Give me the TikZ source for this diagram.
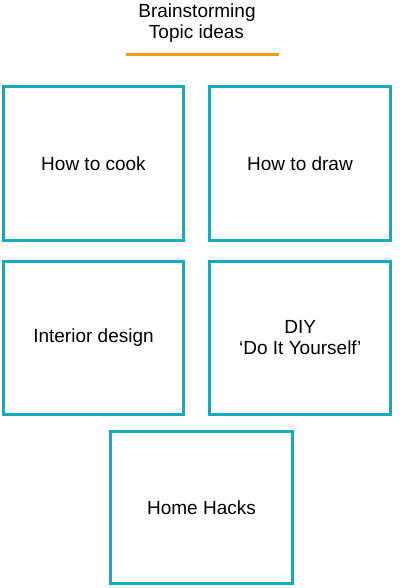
\documentclass[tikz,border=0pt]{standalone}
\usepackage{fontspec}
\setmainfont{Liberation Sans}
\definecolor{boxteal}{RGB}{22,170,186}
\definecolor{ruleorange}{RGB}{228,162,24}
\begin{document}
\begin{tikzpicture}[x=1bp,y=-1bp,
  topicbox/.style={draw=boxteal, line width=3bp, inner sep=0pt, outer sep=0pt,
    align=center, font=\fontsize{19bp}{21bp}\selectfont},
  titleline/.style={inner sep=0pt, anchor=base, font=\fontsize{19bp}{21bp}\selectfont}]
\useasboundingbox (0,0) rectangle (415,588);
% heading and its underline
\node[titleline] (t1) at (197,18) {Brainstorming};
\node[titleline] (t2) at (196.5,39) {Topic ideas};
\coordinate (ul) at (126,54.5);
\coordinate (ur) at (279,54.5);
\draw[ruleorange, line width=3bp] (ul) -- (ur);
% topic boxes
\node[topicbox, minimum width=180bp, minimum height=154bp] (cook) at (93.5,163.5) {How to cook};
\node[topicbox, minimum width=181bp, minimum height=154bp] (draw) at (300,163.5) {How to draw};
\node[topicbox, minimum width=180bp, minimum height=153bp] (interior) at (93.5,338) {Interior design};
\node[topicbox, minimum width=181bp, minimum height=153bp] (diy) at (300.25,338) {DIY\\`Do It Yourself'};
\node[topicbox, minimum width=182bp, minimum height=152bp] (hacks) at (201.5,507.5) {Home Hacks};
\end{tikzpicture}
\end{document}
